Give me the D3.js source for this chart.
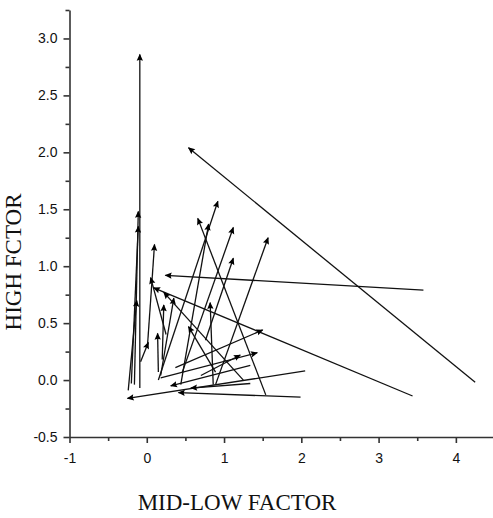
<!DOCTYPE html>
<html>
<head>
<meta charset="utf-8">
<script src="https://cdn.jsdelivr.net/npm/d3@7"></script>
<style>
body { margin: 0; background: #fff; }
.tick text { font-family: 'Liberation Sans', Arial, sans-serif; font-size: 14px; fill: #111; }
.title { font-family: 'Liberation Serif', 'Times New Roman', serif; font-size: 23px; fill: #111; }
</style>
</head>
<body>
<svg id="chart" width="493" height="518"></svg>
<script>
// arrow tails (x0, y0) and heads (x1, y1)
var x0 = [-0.09, 4.25, 3.58, 3.44, -0.16, -0.20, 0.01, 0.25, 1.54, 0.15, 0.44, 0.46, 0.76, 0.89,
          0.37, 0.18, 2.05, 1.99, 0.89, 0.18, 0.20, 0.15, -0.08, 1.34, 0.70, 1.25, 0.86, 1.34, -0.24]
var y0 = [-0.07, -0.02, 0.79, -0.14, -0.04, -0.03, 0.31, 0.40, -0.13, 0.00, -0.04, 0.07, 0.35, -0.04,
          0.11, 0.02, 0.08, -0.15, 0.07, 0.04, 0.18, 0.07, 0.16, 0.13, 0.04, 0.00, -0.04, -0.03, -0.09]
var x1 = [-0.09, 0.54, 0.24, 0.09, -0.11, -0.11, 0.10, 0.05, 0.66, 0.92, 0.80, 1.12, 1.12, 1.57,
          1.50, 1.43, -0.25, 0.41, 0.54, 0.35, 0.22, 0.14, 0.02, 0.31, 1.21, 0.22, 0.82, 0.57, -0.13]
var y1 = [2.86, 2.04, 0.92, 0.81, 1.48, 1.35, 1.19, 0.90, 1.42, 1.57, 1.37, 1.34, 1.07, 1.25,
          0.44, 0.24, -0.16, -0.11, 0.47, 0.72, 0.66, 0.41, 0.33, -0.05, 0.22, 0.77, 0.68, -0.07, 0.70]

var xTicks = [-1, 0, 1, 2, 3, 4]
var xMinor = [-0.5, 0.5, 1.5, 2.5, 3.5, 4.5]
var yTicks = [-0.5, 0.0, 0.5, 1.0, 1.5, 2.0, 2.5, 3.0]
var yMinor = [-0.25, 0.25, 0.75, 1.25, 1.75, 2.25, 2.75, 3.25]

var svg = d3.select('#chart')

var x = d3.scaleLinear().domain([-1, 4.5]).range([69.5, 494.5])
var y = d3.scaleLinear().domain([-0.5, 3.25]).range([437, 10])

// plain hyphen for negatives, like the original
function fmt(f) {
    return function(d) { return f(d).replace('\u2212', '-') }
}

// arrow head
svg.append('defs').append('marker')
    .attr('id', 'head')
    .attr('markerUnits', 'userSpaceOnUse')
    .attr('viewBox', '0 0 10 10')
    .attr('refX', 9)
    .attr('refY', 5)
    .attr('markerWidth', 10)
    .attr('markerHeight', 7)
    .attr('orient', 'auto')
    .append('path')
    .attr('d', 'M0,0.5 L10,5 L0,9.5 L1.5,5 Z')
    .style('fill', '#000')

var arrows = x0.map(function(d, i) {
    return {x0: d, y0: y0[i], x1: x1[i], y1: y1[i]}
})

svg.append('g').selectAll('line')
    .data(arrows)
    .enter()
    .append('line')
    .attr('x1', function(d) { return x(d.x0) })
    .attr('y1', function(d) { return y(d.y0) })
    .attr('x2', function(d) { return x(d.x1) })
    .attr('y2', function(d) { return y(d.y1) })
    .attr('marker-end', 'url(#head)')
    .style('stroke', '#111')
    .style('stroke-width', 1.3)

// axes
var gx = svg.append('g').attr('transform', 'translate(0,' + y(-0.5) + ')')
gx.call(d3.axisBottom(x).tickValues(xTicks).tickSize(6).tickSizeOuter(0).tickPadding(10).tickFormat(fmt(d3.format('d'))))
gx.append('g').call(d3.axisBottom(x).tickValues(xMinor).tickSize(4).tickFormat(''))
    .select('.domain').remove()

var gy = svg.append('g').attr('transform', 'translate(' + x(-1) + ',0)')
gy.call(d3.axisLeft(y).tickValues(yTicks).tickSize(6).tickSizeOuter(0).tickPadding(6).tickFormat(fmt(d3.format('.1f'))))
gy.append('g').call(d3.axisLeft(y).tickValues(yMinor).tickSize(4).tickFormat(''))
    .select('.domain').remove()

svg.selectAll('.domain, .tick line')
    .style('stroke', '#333')
    .style('stroke-width', 1.6)

svg.append('text')
    .attr('class', 'title')
    .attr('x', 237)
    .attr('y', 510)
    .attr('text-anchor', 'middle')
    .text('MID-LOW FACTOR')

svg.append('text')
    .attr('class', 'title')
    .attr('transform', 'translate(21,262) rotate(-90)')
    .attr('text-anchor', 'middle')
    .text('HIGH FCTOR')
</script>
</body>
</html>
